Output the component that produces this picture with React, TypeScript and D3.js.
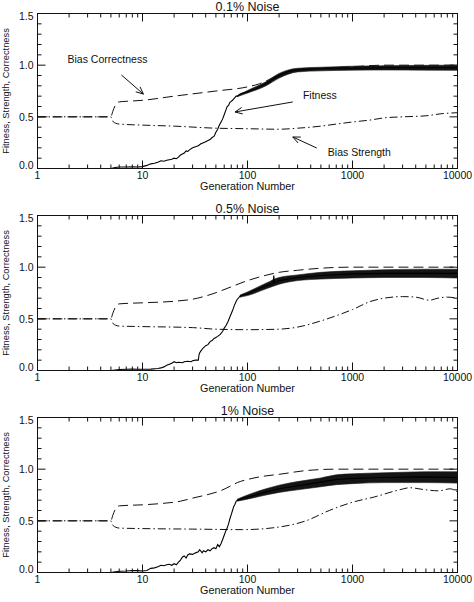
import React from "react";
import * as d3 from "d3";

// ---- data: generation numbers and values read per panel ----

const panelTitles = ["0.1% Noise", "0.5% Noise", "1% Noise"];
const xTickLabels = ["1", "10", "100", "1000", "10000"];
const yTickValues = [0, 0.5, 1.0, 1.5];

// fitness (solid line), noise panel 1
const fitGen1 = [1, 5, 5.5, 6, 7, 8, 9, 10, 11, 12, 13, 14, 15, 16, 17, 18, 19, 20, 21, 22, 23, 24, 25, 26, 27, 28, 30, 32, 34, 36, 38, 40, 42, 44, 46, 48, 50, 52, 54, 56, 58, 60, 62, 64, 66, 68, 70, 72, 75, 78, 80, 85, 90, 100, 110, 120, 130, 150, 170, 200, 230, 260, 300, 400, 500, 700, 1000, 2000, 5000, 10000];
const fitVal1 = [0, 0, 0.01, 0.015, 0.015, 0.017, 0.015, 0.018, 0.03, 0.045, 0.05, 0.06, 0.075, 0.07, 0.08, 0.085, 0.09, 0.1, 0.095, 0.11, 0.13, 0.14, 0.15, 0.17, 0.165, 0.18, 0.2, 0.21, 0.22, 0.24, 0.25, 0.26, 0.27, 0.28, 0.3, 0.31, 0.35, 0.38, 0.42, 0.45, 0.48, 0.52, 0.56, 0.6, 0.61, 0.64, 0.65, 0.66, 0.68, 0.7, 0.7, 0.72, 0.73, 0.74, 0.76, 0.77, 0.79, 0.82, 0.86, 0.9, 0.93, 0.945, 0.955, 0.96, 0.965, 0.97, 0.97, 0.975, 0.975, 0.975];
// spread of the fitness noise, panel 1
const bandGen1 = [80, 100, 150, 200, 300, 500, 1000, 2000, 5000, 10000];
const bandLo1 = [0.695, 0.73, 0.8, 0.875, 0.935, 0.945, 0.952, 0.953, 0.952, 0.95];
const bandHi1 = [0.705, 0.755, 0.84, 0.92, 0.97, 0.98, 0.99, 0.995, 0.998, 1.0];
const corGen1 = [1, 5, 5.2, 5.5, 6, 7, 10, 20, 50, 100, 130, 160, 200, 300, 500, 1000, 2000, 10000];
const corVal1 = [0.5, 0.5, 0.55, 0.61, 0.645, 0.65, 0.66, 0.7, 0.75, 0.79, 0.82, 0.86, 0.91, 0.95, 0.97, 0.985, 1.0, 1.0];
const strGen1 = [1, 5, 5.2, 5.5, 6, 10, 20, 50, 100, 200, 300, 500, 700, 1000, 1500, 2000, 3000, 5000, 7000, 10000];
const strVal1 = [0.5, 0.5, 0.46, 0.44, 0.43, 0.42, 0.41, 0.39, 0.385, 0.38, 0.39, 0.41, 0.43, 0.45, 0.47, 0.49, 0.5, 0.51, 0.53, 0.54];

// panel 2
const fitGen2 = [1, 5, 5.5, 6, 7, 8, 9, 10, 12, 14, 15, 16, 17, 18, 19, 20, 21, 22, 24, 25, 27, 29, 30, 32, 34, 34.5, 35, 36, 38, 40, 42, 44, 46, 48, 50, 52, 55, 58, 60, 62, 65, 68, 70, 72, 75, 78, 80, 85, 90, 100, 120, 150, 175, 178, 180, 185, 200, 300, 500, 1000, 2000, 5000, 10000];
const fitVal2 = [0, 0, 0.005, 0.01, 0.012, 0.015, 0.012, 0.012, 0.013, 0.02, 0.025, 0.035, 0.05, 0.06, 0.07, 0.085, 0.075, 0.08, 0.075, 0.085, 0.09, 0.085, 0.095, 0.1, 0.1, 0.15, 0.17, 0.19, 0.22, 0.24, 0.25, 0.28, 0.29, 0.31, 0.32, 0.33, 0.35, 0.38, 0.41, 0.43, 0.47, 0.52, 0.55, 0.58, 0.63, 0.67, 0.69, 0.72, 0.73, 0.74, 0.78, 0.82, 0.84, 0.92, 0.85, 0.855, 0.87, 0.9, 0.92, 0.935, 0.94, 0.94, 0.94];
const bandGen2 = [85, 100, 150, 200, 300, 500, 1000, 2000, 5000, 10000];
const bandLo2 = [0.71, 0.725, 0.79, 0.835, 0.87, 0.885, 0.895, 0.9, 0.9, 0.895];
const bandHi2 = [0.73, 0.76, 0.845, 0.9, 0.925, 0.95, 0.965, 0.975, 0.98, 0.98];
const corGen2 = [1, 5, 5.2, 5.5, 6, 10, 20, 30, 46, 70, 100, 130, 200, 300, 500, 1000, 10000];
const corVal2 = [0.5, 0.5, 0.55, 0.61, 0.645, 0.655, 0.67, 0.69, 0.74, 0.81, 0.87, 0.905, 0.95, 0.97, 0.99, 1.0, 1.0];
const strGen2 = [1, 5, 5.2, 5.5, 6, 10, 30, 50, 100, 200, 300, 500, 700, 1000, 1500, 2000, 3000, 4000, 5400, 6500, 8000, 10000];
const strVal2 = [0.5, 0.5, 0.46, 0.44, 0.43, 0.425, 0.415, 0.4, 0.395, 0.4, 0.42, 0.48, 0.53, 0.59, 0.67, 0.7, 0.715, 0.71, 0.68, 0.7, 0.71, 0.7];

// panel 3
const fitGen3 = [1, 5, 5.5, 6, 7, 8, 9, 10, 11, 12, 13, 14, 15, 16, 17, 18, 19, 20, 21, 22, 23, 24, 25, 26, 27, 28, 30, 32, 34, 35, 37, 38, 40, 42, 44, 46, 48, 50, 52, 54, 56, 58, 60, 62, 64, 66, 68, 70, 72, 74, 76, 78, 80, 85, 90, 100, 120, 150, 200, 300, 500, 700, 1000, 2000, 5000, 10000];
const fitVal3 = [0, 0, 0.008, 0.012, 0.015, 0.02, 0.018, 0.015, 0.02, 0.04, 0.045, 0.055, 0.07, 0.065, 0.075, 0.08, 0.07, 0.085, 0.075, 0.1, 0.12, 0.15, 0.16, 0.14, 0.17, 0.18, 0.175, 0.19, 0.2, 0.22, 0.19, 0.21, 0.2, 0.22, 0.21, 0.23, 0.24, 0.23, 0.27, 0.25, 0.28, 0.32, 0.36, 0.4, 0.43, 0.47, 0.52, 0.56, 0.6, 0.64, 0.66, 0.69, 0.7, 0.71, 0.72, 0.73, 0.75, 0.78, 0.81, 0.84, 0.875, 0.9, 0.91, 0.92, 0.925, 0.92];
const bandGen3 = [80, 100, 150, 200, 300, 500, 700, 1000, 2000, 3000, 5000, 10000];
const bandLo3 = [0.69, 0.71, 0.75, 0.775, 0.8, 0.83, 0.85, 0.86, 0.87, 0.87, 0.87, 0.865];
const bandHi3 = [0.71, 0.75, 0.81, 0.845, 0.88, 0.915, 0.945, 0.955, 0.965, 0.97, 0.975, 0.975];
const corGen3 = [1, 5, 5.2, 5.5, 6, 10, 16, 23, 30, 44, 55, 70, 80, 100, 150, 200, 350, 700, 10000];
const corVal3 = [0.5, 0.5, 0.55, 0.61, 0.645, 0.655, 0.67, 0.69, 0.72, 0.76, 0.79, 0.84, 0.87, 0.9, 0.935, 0.95, 0.985, 1.0, 1.0];
const strGen3 = [1, 5, 5.2, 5.5, 6, 10, 30, 90, 200, 360, 600, 1000, 1600, 2800, 3500, 5000, 6700, 8500, 10000];
const strVal3 = [0.5, 0.5, 0.46, 0.44, 0.43, 0.425, 0.42, 0.415, 0.44, 0.5, 0.6, 0.68, 0.73, 0.8, 0.82, 0.8, 0.79, 0.81, 0.78];

// labelled arrows on the first panel: [text, text gen, text value, tail gen, tail value, tip gen, tip value]
const annotations: [string, number, number, number, number, number, number][] = [
  ["Bias Correctness", 1.93, 1.06, 6.3, 0.905, 10.2, 0.72],
  ["Fitness", 337, 0.71, 270, 0.644, 76, 0.547],
  ["Bias Strength", 582, 0.16, 457, 0.198, 270, 0.305],
];

const panels = [
  { fit: [fitGen1, fitVal1], band: [bandGen1, bandLo1, bandHi1], cor: [corGen1, corVal1], str: [strGen1, strVal1] },
  { fit: [fitGen2, fitVal2], band: [bandGen2, bandLo2, bandHi2], cor: [corGen2, corVal2], str: [strGen2, strVal2] },
  { fit: [fitGen3, fitVal3], band: [bandGen3, bandLo3, bandHi3], cor: [corGen3, corVal3], str: [strGen3, strVal3] },
];

const W = 474;
const H = 602;
const left = 37.5;
const right = 457.5;
const panelTops = [13.5, 215.5, 417.5];
const panelH = 155;
const font = "'Liberation Sans', Arial, Helvetica, sans-serif";

const zip = (xs: number[], ys: number[]) => xs.map((x, i) => [x, ys[i]] as [number, number]);

const Panel = ({ idx }: { idx: number }) => {
  const top = panelTops[idx];
  const bottom = top + panelH;
  const p = panels[idx];

  const x = d3.scaleLog().domain([1, 10000]).range([left, right]);
  const y = d3.scaleLinear().domain([0, 1.5]).range([bottom, top]);

  const smooth = d3
    .line<[number, number]>()
    .x((d) => x(d[0]))
    .y((d) => y(d[1]))
    .curve(d3.curveMonotoneX);
  const jagged = d3
    .line<[number, number]>()
    .x((d) => x(d[0]))
    .y((d) => y(d[1]));
  const band = d3
    .area<number>()
    .x((g) => x(g))
    .y0((_, i) => y(p.band[1][i]))
    .y1((_, i) => y(p.band[2][i]))
    .curve(d3.curveMonotoneX);

  // minor + major ticks
  const yTicks = d3.range(0, 16).map((k) => k / 10);
  const xTicks: number[] = [];
  [1, 10, 100, 1000].forEach((dec) => d3.range(1, 10).forEach((m) => xTicks.push(dec * m)));
  xTicks.push(10000);

  const clipId = `clip${idx}`;

  return (
    <g>
      <defs>
        <clipPath id={clipId}>
          <rect x={left} y={top} width={right - left} height={panelH} />
        </clipPath>
      </defs>
      <text x={(left + right) / 2} y={top - 2.5} textAnchor="middle" fontSize={12.5} fontFamily={font} fill="#111">
        {panelTitles[idx]}
      </text>

      <g clipPath={`url(#${clipId})`}>
        <path d={smooth(zip(p.str[0], p.str[1])) || ""} fill="none" stroke="#111" strokeWidth={1} strokeDasharray="8,3,1.5,3" />
        <path d={smooth(zip(p.cor[0], p.cor[1])) || ""} fill="none" stroke="#111" strokeWidth={1} strokeDasharray="10,5" />
        <path d={band(p.band[0]) || ""} fill="#151515" stroke="#151515" strokeWidth={0.6} />
        <path d={jagged(zip(p.fit[0], p.fit[1])) || ""} fill="none" stroke="#000" strokeWidth={1.1} />
      </g>

      <rect x={left} y={top} width={right - left} height={panelH} fill="none" stroke="#111" strokeWidth={1} />

      {yTicks.map((v) => {
        const len = Math.abs(v * 2 - Math.round(v * 2)) < 1e-6 ? 8 : 4;
        return (
          <g key={`y${v}`}>
            <line x1={left} x2={left + len} y1={y(v)} y2={y(v)} stroke="#111" />
            <line x1={right} x2={right - len} y1={y(v)} y2={y(v)} stroke="#111" />
          </g>
        );
      })}
      {xTicks.map((g) => {
        const major = Math.abs(Math.log10(g) - Math.round(Math.log10(g))) < 1e-9;
        const len = major ? 8 : 4;
        return (
          <g key={`x${g}`}>
            <line x1={x(g)} x2={x(g)} y1={bottom} y2={bottom - len} stroke="#111" />
            <line x1={x(g)} x2={x(g)} y1={top} y2={top + len} stroke="#111" />
          </g>
        );
      })}

      {yTickValues.map((v) => (
        <text
          key={`yl${v}`}
          x={left - 4}
          y={Math.min(Math.max(y(v), top + 2.5), bottom - 3) + 3.8}
          textAnchor="end"
          fontSize={10.5}
          fontFamily={font}
          fill="#111"
        >
          {v.toFixed(1)}
        </text>
      ))}
      {xTickLabels.map((t) => (
        <text key={`xl${t}`} x={x(+t)} y={bottom + 10.5} textAnchor="middle" fontSize={10.5} fontFamily={font} fill="#111">
          {t}
        </text>
      ))}
      <text x={(left + right) / 2} y={bottom + 21.2} textAnchor="middle" fontSize={10.8} fontFamily={font} fill="#111">
        Generation Number
      </text>
      <text
        transform={`translate(9,${(top + bottom) / 2}) rotate(-90)`}
        textAnchor="middle"
        fontSize={9.3}
        fontFamily={font}
        fill="#111"
      >
        Fitness, Strength, Correctness
      </text>

      {idx === 0 &&
        annotations.map(([label, tg, tv, ag, av, hg, hv]) => {
          const x0 = x(ag);
          const y0 = y(av);
          const x1 = x(hg);
          const y1 = y(hv);
          const ang = Math.atan2(y0 - y1, x0 - x1);
          const head = 8;
          const spread = 0.42;
          const hx1 = x1 + head * Math.cos(ang + spread);
          const hy1 = y1 + head * Math.sin(ang + spread);
          const hx2 = x1 + head * Math.cos(ang - spread);
          const hy2 = y1 + head * Math.sin(ang - spread);
          return (
            <g key={label}>
              <line x1={x0} y1={y0} x2={x1} y2={y1} stroke="#111" strokeWidth={1} />
              <polyline points={`${hx1},${hy1} ${x1},${y1} ${hx2},${hy2}`} fill="none" stroke="#111" strokeWidth={1} />
              <text x={x(tg)} y={y(tv) + 3.8} fontSize={10.5} fontFamily={font} fill="#111">
                {label}
              </text>
            </g>
          );
        })}
    </g>
  );
};

export default function App() {
  return (
    <svg width={W} height={H} style={{ position: "absolute", left: 0, top: 0, background: "#fff" }}>
      <rect width={W} height={H} fill="#fff" />
      {[0, 1, 2].map((i) => (
        <Panel key={i} idx={i} />
      ))}
    </svg>
  );
}
